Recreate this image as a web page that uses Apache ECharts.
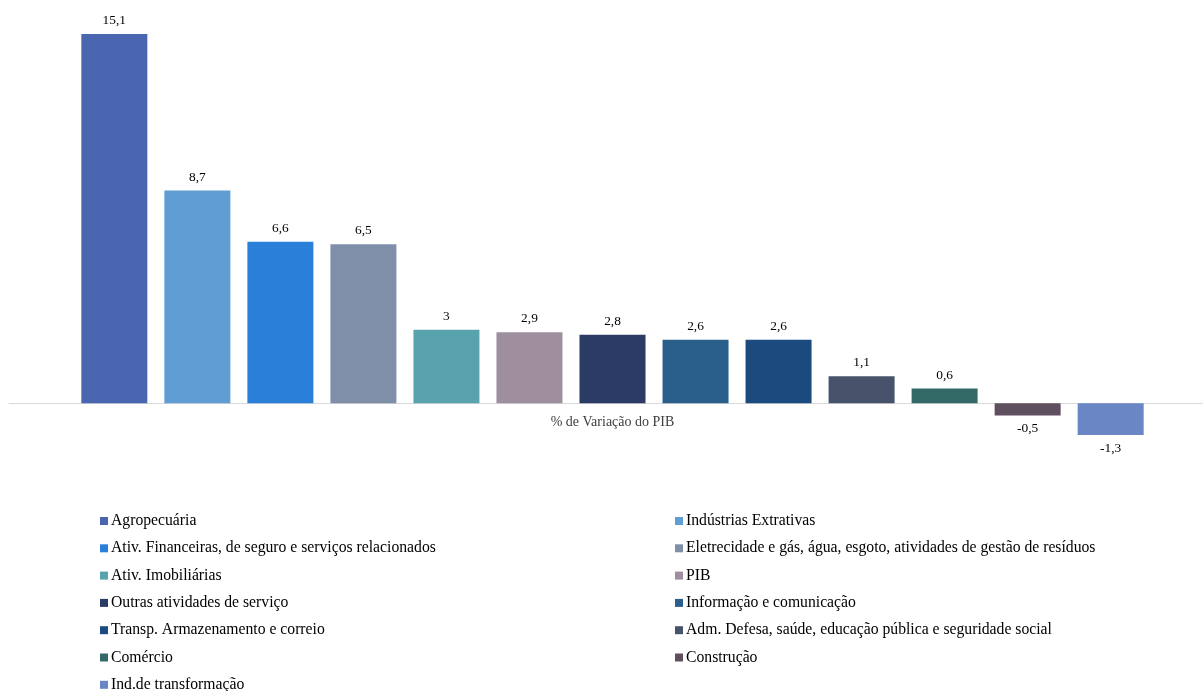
<!DOCTYPE html>
<html>
<head>
<meta charset="utf-8">
<script src="https://cdn.jsdelivr.net/npm/echarts@6/dist/echarts.min.js"></script>
<style>
  html, body { margin: 0; padding: 0; background: #fff; }
  #chart { width: 1203px; height: 691px; }
</style>
</head>
<body>
<div id="chart"></div>
<script>
// categoria única, uma série por setor
const categories = ['% de Variação do PIB'];
const sectors = [
  'Agropecuária',
  'Indústrias Extrativas',
  'Ativ. Financeiras, de seguro e serviços relacionados',
  'Eletrecidade e gás, água, esgoto, atividades de gestão de resíduos',
  'Ativ. Imobiliárias',
  'PIB',
  'Outras atividades de serviço',
  'Informação e comunicação',
  'Transp. Armazenamento e correio',
  'Adm. Defesa, saúde, educação pública e seguridade social',
  'Comércio',
  'Construção',
  'Ind.de transformação'
];
const values = [15.1, 8.7, 6.6, 6.5, 3, 2.9, 2.8, 2.6, 2.6, 1.1, 0.6, -0.5, -1.3];
const colors = ['#4a66b0', '#5f9dd2', '#2a7fd8', '#7f8fa9', '#58a3ac', '#9e8e9e',
  '#2c3b66', '#2a5f8c', '#1b4a7e', '#47536a', '#336a68', '#5f5060', '#6b86c4'];

const serif = '"Liberation Serif", "Times New Roman", serif';

const chart = echarts.init(document.getElementById('chart'));

const series = sectors.map((name, i) => ({
  name: name,
  type: 'bar',
  data: [values[i]],
  barWidth: 66,
  barGap: '25.8%',
  itemStyle: { color: colors[i] },
  label: {
    show: true,
    position: values[i] < 0 ? 'bottom' : 'top',
    distance: 7,
    color: '#000',
    fontFamily: serif,
    fontSize: 13.4,
    formatter: p => String(p.value).replace('.', ',')
  }
}));

const leftCol = sectors.filter((s, i) => i % 2 === 0);
const rightCol = sectors.filter((s, i) => i % 2 === 1);

function legendCol(data, left) {
  return {
    data: data,
    orient: 'vertical',
    left: left,
    top: 513,
    height: 200,
    padding: 0,
    itemWidth: 8,
    itemHeight: 8,
    itemGap: 11.3,
    icon: 'rect',
    selectedMode: false,
    textStyle: {
      fontFamily: serif, fontSize: 15.7, color: '#000', lineHeight: 15,
      padding: [0, 0, 0, -2]
    }
  };
}

chart.setOption({
  animation: false,
  grid: { left: 9, width: 1207, top: 12, bottom: 190, outerBoundsMode: 'none' },
  legend: [legendCol(leftCol, 100), legendCol(rightCol, 675)],
  xAxis: {
    type: 'category',
    data: categories,
    axisTick: { show: false },
    axisLine: { onZero: true, lineStyle: { color: '#d9d9d9', width: 1 } },
    axisLabel: { fontFamily: serif, fontSize: 14, color: '#404040', margin: -86 }
  },
  yAxis: {
    type: 'value',
    min: -4,
    max: 16,
    show: false,
    splitLine: { show: false }
  },
  series: series
});
</script>
</body>
</html>
